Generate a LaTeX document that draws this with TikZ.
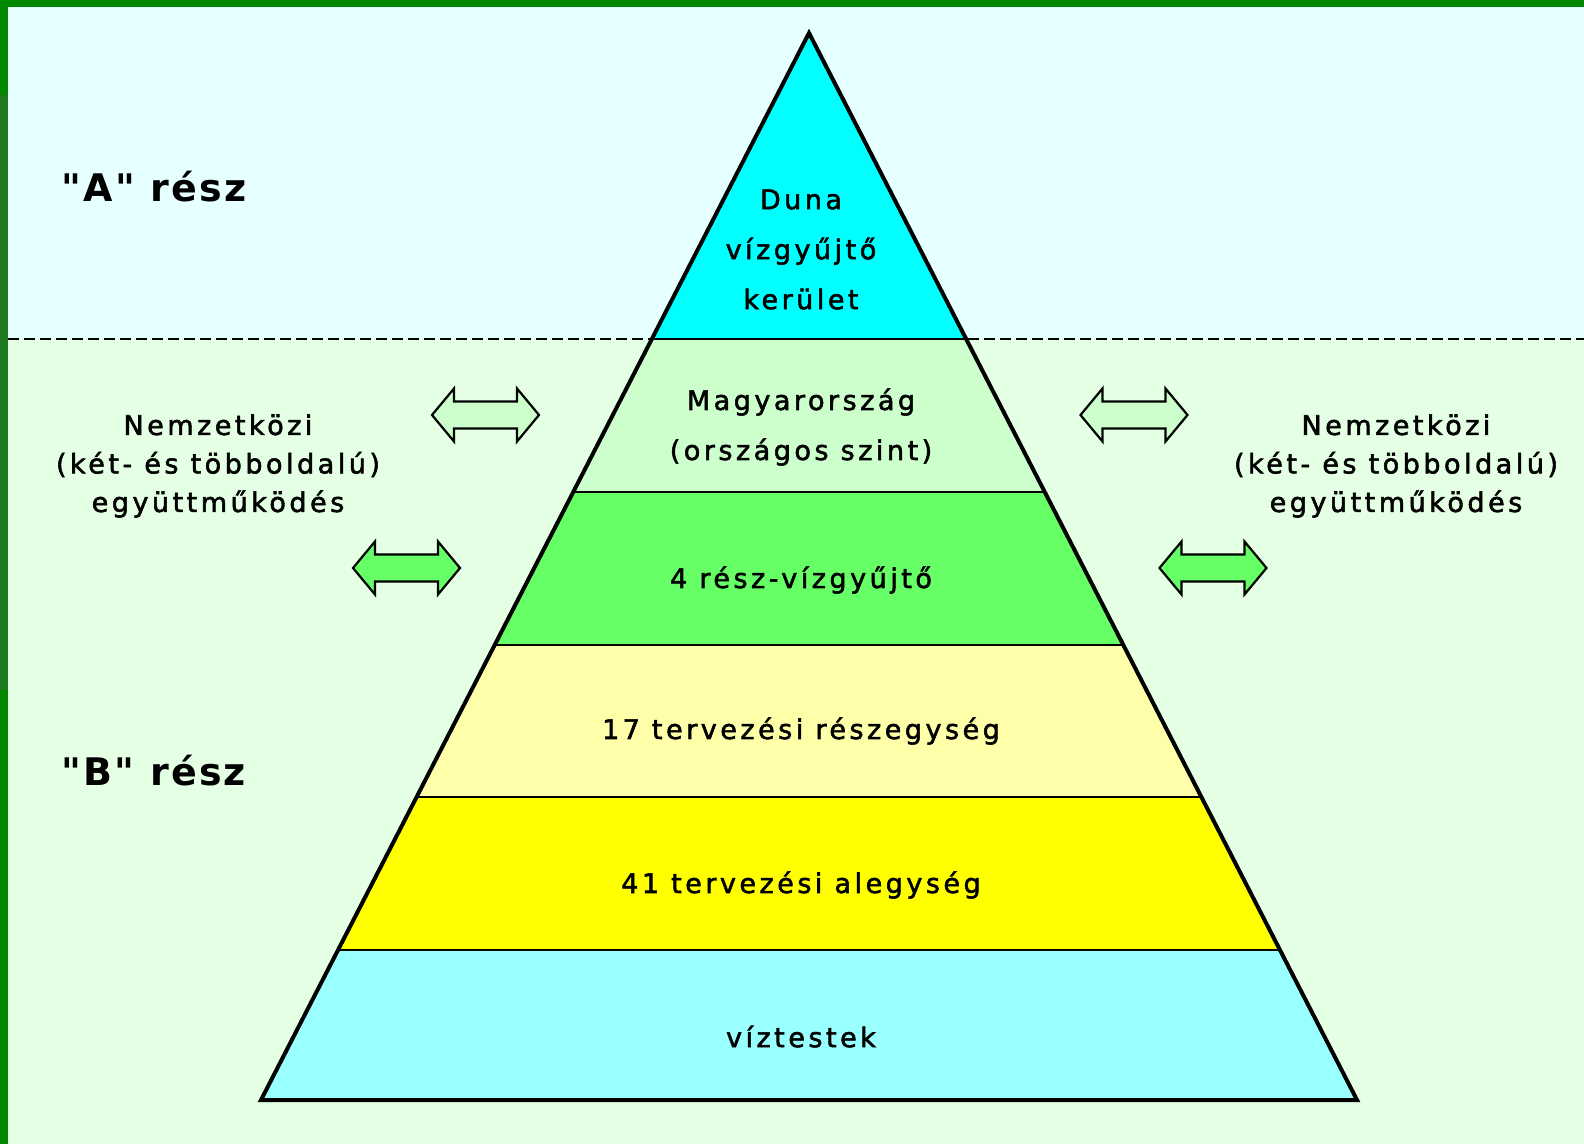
\documentclass[tikz,border=0pt]{standalone}
\usepackage{fontspec}
\usetikzlibrary{calc}
\newfontfamily\lblfont[LetterSpace=13,FakeBold=2]{DejaVu Sans}
\newfontfamily\ttlfont[LetterSpace=6]{DejaVu Sans}
\definecolor{framegreen}{HTML}{008800}
\definecolor{framedark}{HTML}{1E7A1E}
\definecolor{bgtop}{HTML}{E6FFFF}
\definecolor{bgbot}{HTML}{E4FFE4}
\definecolor{cDuna}{HTML}{00FFFF}
\definecolor{cMagy}{HTML}{CCFFCC}
\definecolor{cResz}{HTML}{66FF66}
\definecolor{cT17}{HTML}{FFFFAA}
\definecolor{cT41}{HTML}{FFFF00}
\definecolor{cViz}{HTML}{99FFFF}
\tikzset{
  lbl/.style={font=\lblfont\fontsize{13.5}{25}\selectfont, align=center, inner sep=0pt},
  side/.style={font=\lblfont\fontsize{13.5}{19.25}\selectfont, align=center, inner sep=0pt},
  ttl/.style={font=\ttlfont\bfseries\fontsize{19}{22}\selectfont, anchor=west, inner sep=0pt},
  arrowstyle/.style={draw=black, line width=1.1pt, line join=miter},
  edge/.style={draw=black, line width=2pt, line join=miter},
  band/.style={draw=black, line width=1pt},
}
\newcommand{\dblarr}[3]{%
  \filldraw[arrowstyle, fill=#3] (#1-53.5,#2) -- ++(22,-26.5) -- ++(0,13) -- ++(63,0) -- ++(0,-13) -- ++(22,26.5) -- ++(-22,26.5) -- ++(0,-13) -- ++(-63,0) -- ++(0,13) -- cycle;}
\begin{document}
\begin{tikzpicture}[x=0.5pt,y=-0.5pt]
\useasboundingbox (0,0) rectangle (1584,1144);
% background
\fill[bgtop] (0,0) rectangle (1584,339);
\fill[bgbot] (0,339) rectangle (1584,1144);
\fill[framegreen] (0,0) rectangle (1584,7);
\fill[framegreen] (0,0) rectangle (8,1144);
\fill[framedark] (0,95) rectangle (8,690);
% dashed separator
\draw[black, line width=1.2pt, dash pattern=on 5.5pt off 2.5pt] (8,339) -- (1584,339);
% pyramid coordinates
\coordinate (apex) at (809,33);
\coordinate (bl) at (261,1100);
\coordinate (br) at (1357,1100);
\foreach \n/\t in {1/0.2868,2/0.4302,3/0.5731,4/0.7160,5/0.8590}{
  \coordinate (L\n) at ($(apex)!\t!(bl)$);
  \coordinate (R\n) at ($(apex)!\t!(br)$);
}
% bands
\fill[cDuna] (apex) -- (R1) -- (L1) -- cycle;
\fill[cMagy] (L1) -- (R1) -- (R2) -- (L2) -- cycle;
\fill[cResz] (L2) -- (R2) -- (R3) -- (L3) -- cycle;
\fill[cT17] (L3) -- (R3) -- (R4) -- (L4) -- cycle;
\fill[cT41] (L4) -- (R4) -- (R5) -- (L5) -- cycle;
\fill[cViz] (L5) -- (R5) -- (br) -- (bl) -- cycle;
\foreach \n in {1,...,5}{ \draw[band] (L\n) -- (R\n); }
\draw[edge] (apex) -- (br) -- (bl) -- cycle;
% layer labels
\node[lbl] (duna) at (801,249.5) {Duna\\vízgyűjtő\\kerület};
\node[lbl] (magy) at (801,427) {Magyarország\\(országos szint)};
\node[lbl] (resz4) at (801,580) {4 rész-vízgyűjtő};
\node[lbl] (t17) at (801,731) {17 tervezési részegység};
\node[lbl] (t41) at (801,885) {41 tervezési alegység};
\node[lbl] (viz) at (801,1036.5) {víztestek};
% part titles
\node[ttl] (partA) at (61,187) {"A" rész};
\node[ttl] (partB) at (61,771) {"B" rész};
% side labels
\node[side] (nemL) at (218,466) {Nemzetközi\\(két- és többoldalú)\\együttműködés};
\node[side] (nemR) at (1396,466) {Nemzetközi\\(két- és többoldalú)\\együttműködés};
% double arrows
\dblarr{485.5}{415}{cMagy}
\dblarr{406.5}{568}{cResz}
\dblarr{1134}{415}{cMagy}
\dblarr{1213}{568}{cResz}
\end{tikzpicture}
\end{document}
